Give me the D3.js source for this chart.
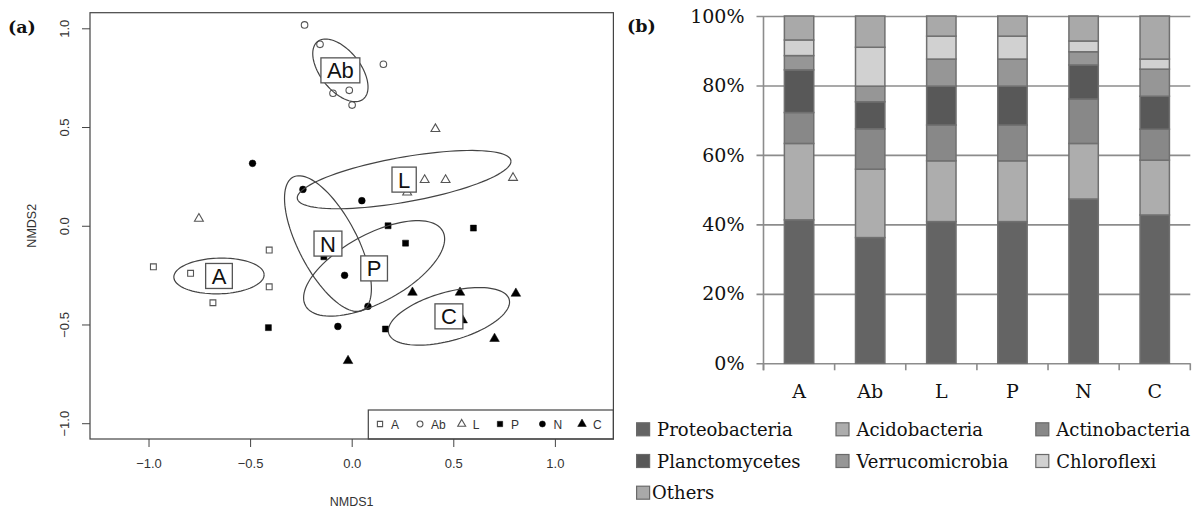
<!DOCTYPE html>
<html><head><meta charset="utf-8">
<script src="https://cdn.jsdelivr.net/npm/d3@7/dist/d3.min.js"></script>
<style>body{margin:0;background:#fff} svg{display:block}</style>
</head><body>
<svg id="chart" width="1194" height="508"></svg>
<script>
// ---------- Panel (a): NMDS ----------
const groups = ["A", "Ab", "L", "P", "N", "C"];
const nmdsGroup = ["A","A","A","A","A","A","Ab","Ab","Ab","Ab","Ab","Ab","L","L","L","L","L","L","P","P","P","P","P","P","N","N","N","N","N","N","C","C","C","C","C","C"];
const nmdsX = [-0.976,-0.793,-0.406,-0.406,-0.683,-0.655, -0.232,-0.156,0.156,-0.092,-0.012,0.002, 0.412,0.359,0.462,0.794,-0.752,0.273, 0.179,0.265,0.599,-0.410,0.166,-0.137, -0.488,-0.240,0.050,-0.035,0.080,-0.068, 0.299,0.533,0.808,0.703,-0.018,0.546];
const nmdsY = [-0.208,-0.241,-0.123,-0.309,-0.390,-0.255, 1.017,0.919,0.818,0.671,0.686,0.611, 0.490,0.232,0.232,0.243,0.036,0.169, 0.000,-0.088,-0.012,-0.516,-0.523,-0.157, 0.316,0.184,0.127,-0.251,-0.408,-0.510, -0.338,-0.338,-0.343,-0.572,-0.684,-0.478];
const nmdsTicks = [-1.0, -0.5, 0.0, 0.5, 1.0];

// ---------- Panel (b): relative abundance ----------
const sites = ["A", "Ab", "L", "P", "N", "C"];
const phyla = ["Proteobacteria","Acidobacteria","Actinobacteria","Planctomycetes","Verrucomicrobia","Chloroflexi","Others"];
const proteobacteria  = [41.3, 36.2, 40.8, 40.8, 47.3, 42.7];
const acidobacteria   = [22.0, 19.7, 17.5, 17.5, 16.0, 15.8];
const actinobacteria  = [ 8.9, 11.6, 10.3, 10.3, 12.8,  8.9];
const planctomycetes  = [12.3,  7.8, 11.2, 11.2,  9.8,  9.5];
const verrucomicrobia = [ 4.1,  4.5,  7.8,  7.8,  3.8,  7.8];
const chloroflexi     = [ 4.5, 11.2,  6.6,  6.6,  3.1,  2.9];
const others          = [ 6.9,  9.0,  5.8,  5.8,  7.2, 12.4];
const pctTicks = [0, 0.2, 0.4, 0.6, 0.8, 1.0];

const svg = d3.select("#chart");
const SANS = "'Liberation Sans', Arial, sans-serif";
const SERIF = "'DejaVu Serif', serif";

// ===== Panel (a) =====
const xA = d3.scaleLinear().domain([-1.288, 1.288]).range([90, 613.4]);
const yA = d3.scaleLinear().domain([-1.08, 1.079]).range([439, 12.7]);
const gA = svg.append("g");

// axes
const xAxisA = d3.axisBottom(xA).tickValues(nmdsTicks).tickFormat(d3.format(".1f")).tickSize(8).tickPadding(12);
gA.append("g").attr("transform", "translate(0,439)").call(xAxisA)
  .call(g => { g.select(".domain").remove();
    g.selectAll("line").attr("stroke", "#444");
    g.selectAll("text").attr("font-family", SANS).attr("font-size", 13).attr("fill", "#333"); });
const yAxisA = d3.axisLeft(yA).tickValues(nmdsTicks).tickFormat(d3.format(".1f")).tickSize(8);
const yAx = gA.append("g").attr("transform", "translate(90,0)").call(yAxisA);
yAx.select(".domain").remove();
yAx.selectAll("line").attr("stroke", "#444");
yAx.selectAll("text").attr("font-family", SANS).attr("font-size", 13).attr("fill", "#333")
  .attr("text-anchor", "middle").attr("dy", null)
  .attr("transform", "translate(-26,0) rotate(-90)").attr("x", 0).attr("y", 4.5);

gA.append("text").attr("x", xA(0)).attr("y", 506).attr("text-anchor", "middle")
  .attr("font-family", SANS).attr("font-size", 12.5).attr("fill", "#333").text("NMDS1");
gA.append("text").attr("transform", `translate(36,${yA(0)}) rotate(-90)`).attr("text-anchor", "middle")
  .attr("font-family", SANS).attr("font-size", 12.5).attr("fill", "#333").text("NMDS2");

// clip
svg.append("clipPath").attr("id", "clipA").append("rect")
  .attr("x", 90).attr("y", 12.7).attr("width", 523.4).attr("height", 426.3);
const plotA = gA.append("g").attr("clip-path", "url(#clipA)");

// symbols
const symSpec = {
  A:  {type: d3.symbolSquare,   size: 34, fill: false},
  Ab: {type: d3.symbolCircle,   size: 34, fill: false},
  L:  {type: d3.symbolTriangle, size: 34, fill: false},
  P:  {type: d3.symbolSquare,   size: 36, fill: true},
  N:  {type: d3.symbolCircle,   size: 36, fill: true},
  C:  {type: d3.symbolTriangle, size: 40, fill: true}
};
function drawSym(sel, grp, x, y, scale) {
  const s = symSpec[grp];
  sel.append("path").attr("d", d3.symbol().type(s.type).size(s.size * (scale || 1))())
    .attr("transform", `translate(${x},${y})`)
    .attr("fill", s.fill ? "#000" : "#fff")
    .attr("stroke", s.fill ? "#000" : "#555")
    .attr("stroke-width", s.fill ? 0.5 : 1.1);
}

// points
nmdsX.forEach((vx, i) => drawSym(plotA, nmdsGroup[i], xA(vx), yA(nmdsY[i])));

// sd ellipses (as ordiellipse kind="sd") + centroid labels
const stats = groups.map(g => {
  const idx = nmdsGroup.map((d, i) => d === g ? i : -1).filter(i => i >= 0);
  const xs = idx.map(i => nmdsX[i]), ys = idx.map(i => nmdsY[i]);
  const mx = d3.mean(xs), my = d3.mean(ys), n = xs.length;
  let sxx = 0, syy = 0, sxy = 0;
  for (let k = 0; k < n; k++) { const dx = xs[k]-mx, dy = ys[k]-my; sxx += dx*dx; syy += dy*dy; sxy += dx*dy; }
  sxx /= (n-1); syy /= (n-1); sxy /= (n-1);
  const l11 = Math.sqrt(sxx), l21 = sxy / l11, l22 = Math.sqrt(Math.max(syy - l21*l21, 0));
  const pts = d3.range(0, 101).map(k => {
    const t = 2*Math.PI*k/100, c = Math.cos(t), s = Math.sin(t);
    return [xA(mx + l11*c), yA(my + l21*c + l22*s)];
  });
  return {g, mx, my, pts};
});
stats.forEach(s => {
  plotA.append("path").attr("d", d3.line()(s.pts)).attr("fill", "none")
    .attr("stroke", "#444").attr("stroke-width", 1.2);
});
stats.forEach(s => {
  const lab = plotA.append("g").attr("transform", `translate(${xA(s.mx)},${yA(s.my)})`);
  const rect = lab.append("rect");
  const t = lab.append("text").attr("text-anchor", "middle").attr("y", 8)
    .attr("font-family", SANS).attr("font-size", 22).attr("fill", "#111").text(s.g);
  const w = t.node().getComputedTextLength() + 12;
  rect.attr("x", -w/2).attr("y", -12.5).attr("width", w).attr("height", 25)
    .attr("fill", "#fff").attr("stroke", "#555").attr("stroke-width", 1.3);
});

// legend inside plot
gA.append("rect").attr("x", 368.3).attr("y", 410).attr("width", 245.1).attr("height", 29)
  .attr("fill", "#fff").attr("stroke", "#444").attr("stroke-width", 1.2);
const legSymX = [380, 420, 461.7, 500, 542.4, 582];
groups.forEach((g, i) => {
  drawSym(gA, g, legSymX[i], 424, 0.8);
  gA.append("text").attr("x", legSymX[i] + 11).attr("y", 428.5).attr("font-family", SANS)
    .attr("font-size", 12).attr("fill", "#333").text(g);
});
// box
gA.append("rect").attr("x", 90).attr("y", 12.7).attr("width", 523.4).attr("height", 426.3)
  .attr("fill", "none").attr("stroke", "#444").attr("stroke-width", 1.2);

svg.append("text").attr("x", 8).attr("y", 33).attr("font-family", SERIF).attr("font-weight", "bold")
  .attr("font-size", 17.5).attr("fill", "#111").text("(a)");

// ===== Panel (b) =====
const colors = ["#646464", "#adadad", "#888888", "#585858", "#969696", "#d1d1d1", "#a9a9a9"];
const seriesArr = [proteobacteria, acidobacteria, actinobacteria, planctomycetes, verrucomicrobia, chloroflexi, others];
const table = sites.map((s, i) => { const o = {site: s}; phyla.forEach((p, j) => o[p] = seriesArr[j][i]); return o; });
const stacked = d3.stack().keys(phyla).offset(d3.stackOffsetExpand)(table);

const xB = d3.scaleBand().domain(sites).range([763.5, 1190.3]).paddingInner(0.587).paddingOuter(0.2935);
const yB = d3.scaleLinear().domain([0, 1]).range([363.3, 16]);
const gB = svg.append("g");

// gridlines & y labels
const yAxisB = d3.axisLeft(yB).tickValues(pctTicks).tickFormat(d3.format(".0%"))
  .tickSize(-(1190.3 - 763.5)).tickPadding(12);
const yb = gB.append("g").attr("transform", "translate(763.5,0)").call(yAxisB);
yb.select(".domain").remove();
yb.selectAll("line").attr("stroke", "#8c8c8c").attr("stroke-width", 1.6).attr("x1", -7);
yb.selectAll("text").attr("font-family", SERIF).attr("font-size", 19).attr("fill", "#111").attr("x", -19);
// y axis line
gB.append("line").attr("x1", 763.5).attr("x2", 763.5).attr("y1", yB(1)).attr("y2", yB(0) + 7)
  .attr("stroke", "#8c8c8c").attr("stroke-width", 1.6);
// category boundary ticks
const bounds = sites.map(s => xB(s) - xB.step() * xB.paddingInner() / 2).concat([1190.3]);
bounds.forEach(b => gB.append("line").attr("x1", b).attr("x2", b).attr("y1", yB(0)).attr("y2", yB(0) + 7)
  .attr("stroke", "#8c8c8c").attr("stroke-width", 1.6));
// category labels
sites.forEach(s => gB.append("text").attr("x", xB(s) + xB.bandwidth() / 2).attr("y", 398)
  .attr("text-anchor", "middle").attr("font-family", SERIF).attr("font-size", 19).attr("fill", "#111").text(s));

// bars
stacked.forEach((layer, j) => {
  gB.append("g").selectAll("rect").data(layer).join("rect")
    .attr("x", d => xB(d.data.site)).attr("width", xB.bandwidth())
    .attr("y", d => yB(d[1])).attr("height", d => yB(d[0]) - yB(d[1]))
    .attr("fill", colors[j]).attr("stroke", "#707070").attr("stroke-width", 1.5);
});

// legend
const legCols = [636.6, 836, 1035.8];
const legRows = [429.3, 461, 492.7];
phyla.forEach((p, j) => {
  const col = j % 3, row = Math.floor(j / 3);
  const sx = legCols[col], cy = legRows[row];
  gB.append("rect").attr("x", sx).attr("y", cy - 6.5).attr("width", 13).attr("height", 13)
    .attr("fill", colors[j]).attr("stroke", "#6a6a6a").attr("stroke-width", 1.2);
  gB.append("text").attr("x", sx + (p === "Others" ? 15.5 : 20.5)).attr("y", cy + 6.5)
    .attr("font-family", SERIF).attr("font-size", 18).attr("fill", "#111").text(p);
});

svg.append("text").attr("x", 627).attr("y", 32).attr("font-family", SERIF).attr("font-weight", "bold")
  .attr("font-size", 17.5).attr("fill", "#111").text("(b)");
</script>
</body></html>
